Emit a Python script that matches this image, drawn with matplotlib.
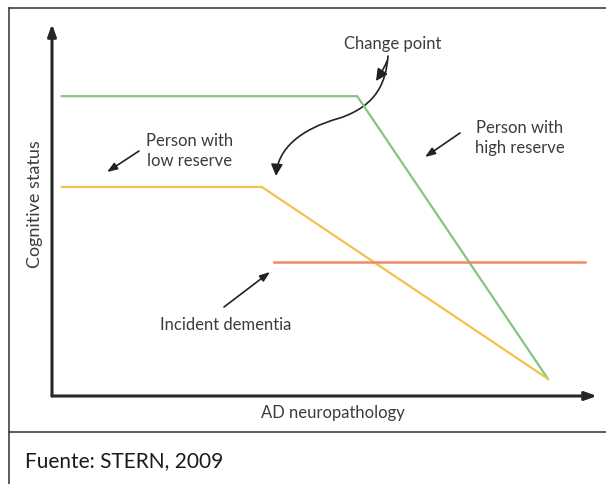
import matplotlib
matplotlib.use("Agg")
import matplotlib.pyplot as plt
from matplotlib.patches import FancyArrowPatch
from matplotlib.path import Path
from matplotlib.lines import Line2D

plt.rcParams['font.family'] = ['Lato', 'DejaVu Sans']

# ---- data (conceptual units: 0-100 on both axes) ----
high_reserve_x = [1.8, 56.0, 91.0]
high_reserve_y = [80.6, 80.6, 4.6]
low_reserve_x = [1.8, 38.5, 91.0]
low_reserve_y = [56.2, 56.2, 4.6]
dementia_x = [40.7, 97.8]
dementia_y = [36.0, 36.0]

x_label = "AD neuropathology"
y_label = "Cognitive status"
source_text = "Fuente: STERN, 2009"

W, H = 606, 485
fig = plt.figure(figsize=(W / 100, H / 100), dpi=100)
fig.patch.set_facecolor("white")

# axes area in pixels: x 52..597, y 397 (bottom) .. 25 (top)
L, R, B, T = 52, 597, 397, 25
ax = fig.add_axes([L / W, 1 - B / H, (R - L) / W, (B - T) / H])
ax.set_xlim(0, 100)
ax.set_ylim(0, 100)
ax.axis("off")
ax.patch.set_alpha(0)


def px(x, y):
    """pixel position -> data units"""
    return ((x - L) / (R - L) * 100, (B - y) / (B - T) * 100)


axis_col = "#262626"
text_col = "#3c3c3c"

# axes arrows
ax.annotate("", xy=(100, 0), xytext=(0, 0),
            arrowprops=dict(arrowstyle="-|>,head_length=0.7,head_width=0.25",
                            color=axis_col, lw=2.2, shrinkA=0, shrinkB=0),
            annotation_clip=False)
ax.annotate("", xy=(0, 100), xytext=(0, 0),
            arrowprops=dict(arrowstyle="-|>,head_length=0.7,head_width=0.25",
                            color=axis_col, lw=2.2, shrinkA=0, shrinkB=0),
            annotation_clip=False)

# series
ax.plot(high_reserve_x, high_reserve_y, color="#82c77f", lw=1.6, solid_joinstyle="miter")
ax.plot(low_reserve_x, low_reserve_y, color="#f2c24a", lw=1.6, solid_joinstyle="miter")
ax.plot(dementia_x, dementia_y, color="#ee8a68", lw=1.8)

fs = 12
# labels
ax.text(*px(333, 413), x_label, ha="center", va="center", fontsize=fs, color=text_col)
ax.text(*px(35, 204), y_label, ha="center", va="center", rotation=90,
        fontsize=13, color=text_col)

ax.text(*px(393, 44), "Change point", ha="center", va="center", fontsize=fs, color=text_col)
ax.text(*px(190, 151), "Person with\nlow reserve", ha="center", va="center",
        fontsize=fs, color=text_col, linespacing=1.3)
ax.text(*px(520, 138), "Person with\nhigh reserve", ha="center", va="center",
        fontsize=fs, color=text_col, linespacing=1.3)
ax.text(*px(226, 325), "Incident dementia", ha="center", va="center",
        fontsize=fs, color=text_col)

arr = dict(arrowstyle="-|>,head_length=0.6,head_width=0.22", color="#222222",
           lw=1.2, shrinkA=0, shrinkB=0)
ax.annotate("", xy=px(107, 173), xytext=px(139, 152), arrowprops=arr)
ax.annotate("", xy=px(425, 158), xytext=px(460, 134), arrowprops=arr)
ax.annotate("", xy=px(270, 273), xytext=px(224, 308), arrowprops=arr)


def curve_arrow(points, codes):
    ax.add_patch(FancyArrowPatch(path=Path([px(*p) for p in points], codes),
                                 arrowstyle="-|>,head_length=7,head_width=3.5",
                                 color="#222222", lw=1.2, mutation_scale=1))


# short curved arrow from "Change point"
curve_arrow([(387, 62), (384, 70), (376, 82)],
            [Path.MOVETO, Path.CURVE3, Path.CURVE3])

# long S-curve arrow
curve_arrow([(388, 57), (386, 82), (378, 106), (340, 119),
             (300, 130), (278, 150), (276, 177)],
            [Path.MOVETO, Path.CURVE4, Path.CURVE4, Path.CURVE4,
             Path.CURVE4, Path.CURVE4, Path.CURVE4])

# frame: outer box and footer
border = "#404040"
fig.add_artist(Line2D([9 / W, 9 / W], [0, 1 - 9 / H], transform=fig.transFigure,
                      color=border, lw=1.2))
fig.add_artist(Line2D([9 / W, 1], [1 - 9 / H, 1 - 9 / H], transform=fig.transFigure,
                      color=border, lw=1.2))
fig.add_artist(Line2D([9 / W, 1], [1 - 433 / H, 1 - 433 / H], transform=fig.transFigure,
                      color=border, lw=1.2))
fig.text(25 / W, 1 - 461 / H, source_text, ha="left", va="center",
         fontsize=15, color="#1a1a1a")

fig.savefig("out.png", dpi=100, facecolor="white")
